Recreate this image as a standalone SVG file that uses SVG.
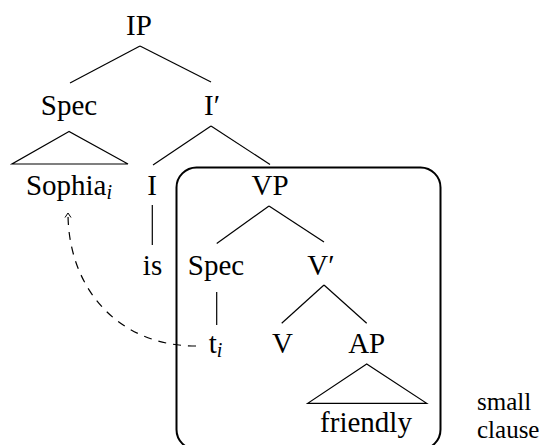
<svg xmlns="http://www.w3.org/2000/svg" width="554" height="445" viewBox="0 0 554 445">
<style>
text{font-size:29px;fill:#000;text-anchor:middle}
.sub{font-style:italic;font-size:20px}
.l{text-anchor:start;font-size:25px}
.e{stroke:#000;stroke-width:1.2;fill:none}
.box{stroke:#000;stroke-width:2;fill:none}
.mv{stroke:#000;stroke-width:1.2;fill:none;stroke-dasharray:8 7}
</style>
<defs>
<marker id="ah" viewBox="-6 -5 8 10" refX="0" refY="0" markerWidth="8" markerHeight="10" markerUnits="userSpaceOnUse" orient="auto">
<path d="M-4.5,-3 L0,0 L-4.5,3" fill="none" stroke="#000" stroke-width="1"/>
</marker>
</defs>
<rect class="box" x="176.5" y="167.5" width="264" height="282" rx="20" ry="20"/>
<g id="connectors">
<line class="e" x1="140" y1="46" x2="70" y2="83"/>
<line class="e" x1="140" y1="46" x2="211" y2="82"/>
<path class="e" d="M69,131.5 L12,164 L128,164 Z"/>
<line class="e" x1="211" y1="126" x2="153" y2="165"/>
<line class="e" x1="211" y1="126" x2="270" y2="164.5"/>
<line class="e" x1="152.3" y1="205" x2="152.3" y2="245"/>
<line class="e" x1="269" y1="206" x2="216.7" y2="243.5"/>
<line class="e" x1="269" y1="206" x2="324" y2="242"/>
<line class="e" x1="216.7" y1="292" x2="216.7" y2="325"/>
<line class="e" x1="324" y1="285" x2="281.7" y2="323.3"/>
<line class="e" x1="324" y1="285" x2="366.7" y2="323.3"/>
<path class="e" d="M366.7,364 L307.7,403.3 L426.7,403.3 Z"/>
<path class="mv" d="M196,346 C118,346 68,288 68,213" marker-end="url(#ah)"/>
</g>
<g font-family="Liberation Serif, Times New Roman, DejaVu Serif, serif">
<g id="n-IP"><text x="139" y="35">IP</text></g>
<g id="n-Spec1"><text x="69" y="115">Spec</text></g>
<g id="n-Ibar"><text x="212" y="115">I′</text></g>
<g id="n-Sophia"><text x="69" y="195">Sophia<tspan class="sub" dy="4">i</tspan></text></g>
<g id="n-I"><text x="152" y="195">I</text></g>
<g id="n-is"><text x="152.5" y="275">is</text></g>
<g id="n-VP"><text x="270" y="195">VP</text></g>
<g id="n-Spec2"><text x="216" y="275">Spec</text></g>
<g id="n-Vbar"><text x="321" y="275">V′</text></g>
<g id="n-t"><text x="215.5" y="353">t<tspan class="sub" dy="4">i</tspan></text></g>
<g id="n-V"><text x="282.5" y="353">V</text></g>
<g id="n-AP"><text x="366.7" y="353">AP</text></g>
<g id="n-friendly"><text x="366" y="432">friendly</text></g>
<g id="label"><text class="l" x="477" y="410">small</text><text class="l" x="477" y="438">clause</text></g>
</g>
</svg>
